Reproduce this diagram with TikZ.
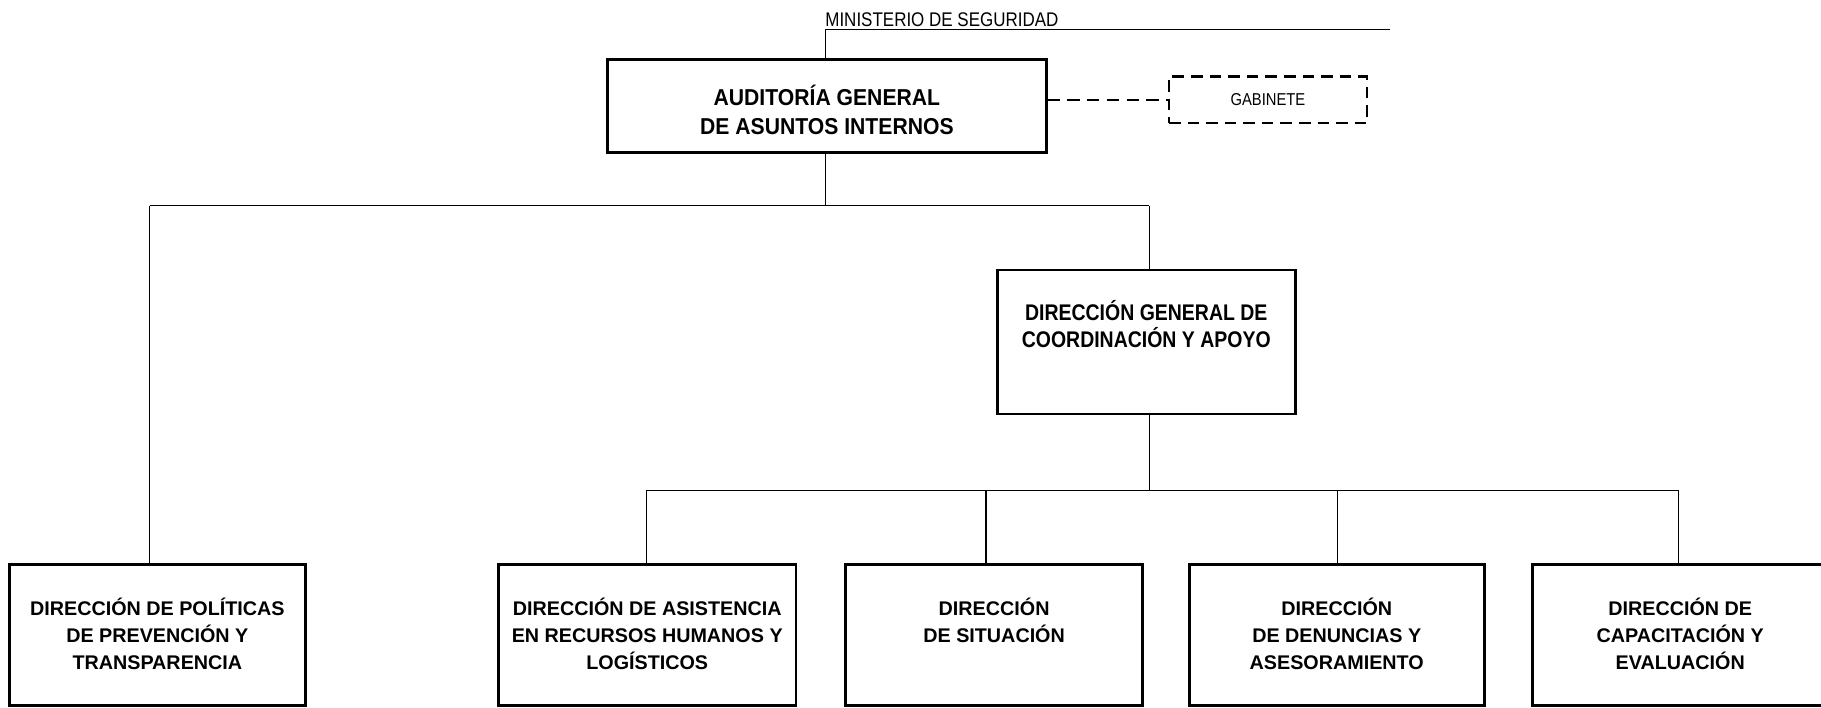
\documentclass[tikz,border=0pt]{standalone}
\usepackage{fontspec}
\setmainfont{Liberation Sans}
\newfontfamily\condR[FakeStretch=0.86]{Liberation Sans}
\newfontfamily\condA[FakeStretch=0.92]{Liberation Sans}
\newfontfamily\condG[FakeStretch=0.86]{Liberation Sans}
\begin{document}
\begin{tikzpicture}[x=1pt,y=-1pt,
  box/.style={draw, line width=2.3pt, inner sep=0pt, fill=white},
  dbox/.style={draw, line width=2.3pt, dash pattern=on 10pt off 6pt, inner sep=0pt},
  conn/.style={line width=0.9pt},
  dconn/.style={line width=2.3pt, dash pattern=on 10.5pt off 6.5pt},
  btxt/.style={font=\bfseries\fontsize{17}{23}\selectfont, align=center, inner sep=0pt, anchor=north},
  gtxt/.style={font=\condG\bfseries\fontsize{19.5}{23.2}\selectfont, align=center, inner sep=0pt, anchor=north},
  atxt/.style={font=\condA\bfseries\fontsize{19.8}{24.4}\selectfont, align=center, inner sep=0pt, anchor=north},
  rtxt/.style={font=\condR\fontsize{17}{20}\selectfont, inner sep=0pt}
]
\useasboundingbox (0,0) rectangle (1568,609);

% top
\node[rtxt, anchor=base west] (min) at (710.5,22.4) {MINISTERIO DE SEGURIDAD};
\coordinate (minL) at (710.5,25.8);
\coordinate (minR) at (1197,25.8);

\node[box, minimum width=378pt, minimum height=80.5pt] (aud) at (712,91.25) {};
\node[atxt] (audt) at ([yshift=-23.5pt]aud.north) {AUDITORÍA GENERAL\\DE ASUNTOS INTERNOS};

\node[dbox, rtxt, font=\condR\fontsize{14.8}{16}\selectfont, minimum width=170.5pt, minimum height=40pt] (gab) at (1091.8,86) {GABINETE};

\draw[conn] (minR) -- (minL) -- (minL |- aud.north);
\draw[dconn] (aud.east |- gab.west) -- (gab.west);

% first level
\coordinate (busL) at (129,177);
\coordinate (busR) at (989.6,177);
\coordinate (busC) at (710.5,177);

\node[box, minimum width=256.7pt, minimum height=124pt] (dg) at (987,294.5) {};
\node[gtxt] (dgt) at ([yshift=-27.5pt]dg.north) {DIRECCIÓN GENERAL DE\\COORDINACIÓN Y APOYO};

% bottom boxes
\node[box, minimum width=255pt, minimum height=121.5pt] (b1) at (135.5,546.75) {};
\node[box, minimum width=256pt, minimum height=121.5pt] (b2) at (557.3,546.75) {};
\node[box, minimum width=256pt, minimum height=121.5pt] (b3) at (856,546.75) {};
\node[box, minimum width=254pt, minimum height=121.5pt] (b4) at (1151,546.75) {};
\node[box, minimum width=254.4pt, minimum height=121.5pt] (b5) at (1446.8,546.75) {};

\node[btxt] (t1) at ([yshift=-30pt]b1.north) {DIRECCIÓN DE POLÍTICAS\\DE PREVENCIÓN Y\\TRANSPARENCIA};
\node[btxt] (t2) at ([yshift=-30pt]b2.north) {DIRECCIÓN DE ASISTENCIA\\EN RECURSOS HUMANOS Y\\LOGÍSTICOS};
\node[btxt] (t3) at ([yshift=-30pt]b3.north) {DIRECCIÓN\\DE SITUACIÓN};
\node[btxt] (t4) at ([yshift=-30pt]b4.north) {DIRECCIÓN\\DE DENUNCIAS Y\\ASESORAMIENTO};
\node[btxt] (t5) at ([yshift=-30pt]b5.north) {DIRECCIÓN DE\\CAPACITACIÓN Y\\EVALUACIÓN};

\draw[conn] (busC |- aud.south) -- (busC);
\draw[conn] (busL) -- (busR);
\draw[conn] (busL) -- (busL |- b1.north);
\draw[conn] (busR) -- (busR |- dg.north);

\coordinate (bus2) at (989.6,422);
\coordinate (bus2L) at (557,422);
\coordinate (bus2R) at (1445,422);
\coordinate (bus2a) at (849,422);
\coordinate (bus2b) at (1151.6,422);
\draw[conn] (bus2 |- dg.south) -- (bus2);
\draw[conn] (bus2L) -- (bus2R);
\draw[conn] (bus2L) -- (bus2L |- b2.north);
\draw[conn] (bus2a) -- (bus2a |- b3.north);
\draw[conn] (bus2b) -- (bus2b |- b4.north);
\draw[conn] (bus2R) -- (bus2R |- b5.north);
\end{tikzpicture}
\end{document}
